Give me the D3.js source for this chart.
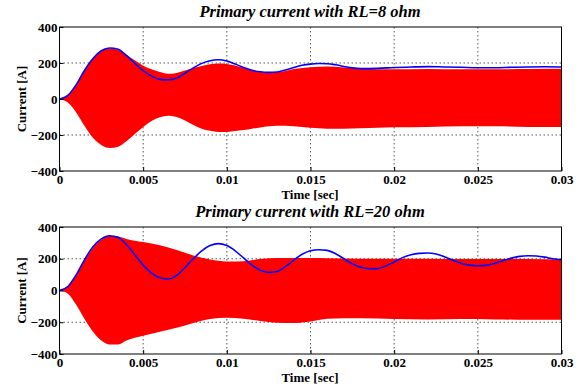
<!DOCTYPE html>
<html>
<head>
<meta charset="utf-8">
<script src="https://cdn.jsdelivr.net/npm/d3@7"></script>
<style>
  body { margin: 0; background: #fff; }
  svg { display: block; font-family: 'Liberation Serif', 'Times New Roman', serif; }
</style>
</head>
<body>
<div id="chart"></div>
<script>
// ticks
const xTicks = [0, 0.005, 0.01, 0.015, 0.02, 0.025, 0.03];
const xTickLabels = ['0', '0.005', '0.01', '0.015', '0.02', '0.025', '0.03'];
const yTicks = [-400, -200, 0, 200, 400];

// RL = 8 ohm : blue envelope
const tBlue8 = [0, 0.0005, 0.001, 0.0015, 0.002, 0.0025, 0.003, 0.0035, 0.004, 0.0045, 0.005, 0.0055, 0.006, 0.0065, 0.007, 0.0075, 0.008, 0.0085, 0.009, 0.0095, 0.01, 0.0105, 0.011, 0.0115, 0.012, 0.0125, 0.013, 0.0135, 0.014, 0.0145, 0.015, 0.0155, 0.016, 0.0165, 0.017, 0.0175, 0.018, 0.019, 0.02, 0.021, 0.022, 0.023, 0.024, 0.025, 0.026, 0.027, 0.028, 0.029, 0.03];
const blue8 = [0, 20, 80, 160, 225, 268, 283, 276, 242, 198, 158, 127, 109, 106, 117, 143, 173, 198, 213, 218, 211, 194, 175, 160, 151, 148, 150, 161, 175, 187, 194, 197, 196, 190, 181, 173, 169, 170, 175, 178, 180, 178, 176, 174, 174, 176, 178, 179, 178];

// RL = 8 ohm : red band (upper / lower bounds of the fast signal)
const tRed8 = [0, 0.0005, 0.001, 0.0015, 0.002, 0.0025, 0.003, 0.0035, 0.004, 0.0045, 0.005, 0.0055, 0.006, 0.0065, 0.007, 0.0075, 0.008, 0.0085, 0.009, 0.0095, 0.01, 0.0105, 0.011, 0.0115, 0.012, 0.0125, 0.013, 0.0135, 0.014, 0.015, 0.016, 0.017, 0.018, 0.02, 0.022, 0.024, 0.026, 0.028, 0.03];
const redHi8 = [0, 20, 80, 158, 222, 265, 280, 272, 245, 215, 185, 165, 150, 140, 145, 158, 172, 184, 193, 197, 195, 186, 172, 160, 152, 149, 150, 156, 166, 176, 180, 175, 168, 165, 167, 165, 165, 167, 168];
const redLo8 = [0, -20, -75, -150, -215, -255, -272, -265, -235, -195, -155, -122, -102, -93, -100, -120, -145, -165, -177, -183, -183, -178, -172, -165, -158, -152, -148, -148, -152, -160, -165, -165, -162, -157, -155, -152, -152, -155, -155];

// RL = 20 ohm : blue envelope
const tBlue20 = [0, 0.0005, 0.001, 0.0015, 0.002, 0.0025, 0.003, 0.0035, 0.004, 0.0045, 0.005, 0.0055, 0.006, 0.0065, 0.007, 0.0075, 0.008, 0.0085, 0.009, 0.0095, 0.01, 0.0105, 0.011, 0.0115, 0.012, 0.0125, 0.013, 0.0135, 0.014, 0.0145, 0.015, 0.0155, 0.016, 0.0165, 0.017, 0.0175, 0.018, 0.0185, 0.019, 0.0195, 0.02, 0.0205, 0.021, 0.0215, 0.022, 0.0225, 0.023, 0.0235, 0.024, 0.0245, 0.025, 0.0255, 0.026, 0.0265, 0.027, 0.0275, 0.028, 0.0285, 0.029, 0.0295, 0.03];
const blue20 = [0, 25, 100, 195, 275, 325, 345, 335, 290, 225, 160, 110, 80, 72, 95, 145, 200, 250, 283, 295, 283, 250, 205, 160, 127, 114, 120, 150, 192, 228, 250, 257, 253, 232, 200, 168, 146, 137, 138, 155, 180, 207, 225, 234, 236, 230, 213, 190, 172, 160, 156, 158, 170, 188, 204, 215, 219, 217, 210, 200, 194];

// RL = 20 ohm : red band
const tRed20 = [0, 0.0005, 0.001, 0.0015, 0.002, 0.0025, 0.003, 0.0035, 0.004, 0.005, 0.006, 0.007, 0.008, 0.009, 0.01, 0.011, 0.012, 0.013, 0.014, 0.015, 0.016, 0.018, 0.02, 0.022, 0.024, 0.026, 0.028, 0.03];
const redHi20 = [0, 25, 98, 190, 270, 320, 343, 340, 325, 305, 285, 255, 220, 195, 183, 185, 198, 205, 205, 204, 203, 200, 200, 200, 198, 198, 198, 195];
const redLo20 = [0, -20, -90, -180, -260, -315, -340, -340, -315, -285, -260, -235, -205, -180, -172, -178, -192, -203, -205, -195, -178, -175, -180, -182, -180, -182, -185, -185];

const panels = [
  { title: 'Primary current with RL=8 ohm', top: 27, tBlue: tBlue8, blue: blue8, tRed: tRed8, hi: redHi8, lo: redLo8 },
  { title: 'Primary current with RL=20 ohm', top: 227, tBlue: tBlue20, blue: blue20, tRed: tRed20, hi: redHi20, lo: redLo20 }
];

const W = 587, H = 387;
const left = 59.5, right = 561.5;
const plotH = [144, 127];

const svg = d3.select('#chart').append('svg')
  .attr('width', W)
  .attr('height', H);

panels.forEach((p, i) => {
  const top = p.top;
  const h = plotH[i];
  const x = d3.scaleLinear().domain([0, 0.03]).range([left, right]);
  const y = d3.scaleLinear().domain([-400, 400]).range([top + h, top]);

  const g = svg.append('g');

  // grid
  g.selectAll('.gx').data(xTicks.slice(1, -1)).enter().append('line')
    .attr('x1', d => x(d)).attr('x2', d => x(d))
    .attr('y1', top).attr('y2', top + h)
    .attr('stroke', '#555').attr('stroke-width', 1)
    .attr('stroke-dasharray', '1.5,2.5');
  g.selectAll('.gy').data(yTicks.slice(1, -1)).enter().append('line')
    .attr('x1', left).attr('x2', right)
    .attr('y1', d => y(d)).attr('y2', d => y(d))
    .attr('stroke', '#555').attr('stroke-width', 1)
    .attr('stroke-dasharray', '1.5,2.5');

  // red band
  const band = p.tRed.map((t, k) => ({ t, hi: p.hi[k], lo: p.lo[k] }));
  const area = d3.area()
    .x(d => x(d.t))
    .y0(d => y(d.lo))
    .y1(d => y(d.hi))
    .curve(d3.curveMonotoneX);
  g.append('path')
    .datum(band)
    .attr('fill', '#ff0000')
    .attr('d', area);

  // blue envelope
  const env = p.tBlue.map((t, k) => ({ t, v: p.blue[k] }));
  const line = d3.line()
    .x(d => x(d.t))
    .y(d => y(d.v))
    .curve(d3.curveMonotoneX);
  g.append('path')
    .datum(env)
    .attr('fill', 'none')
    .attr('stroke', '#0000ff')
    .attr('stroke-width', 1.6)
    .attr('d', line);

  // box
  g.append('rect')
    .attr('x', left).attr('y', top)
    .attr('width', right - left).attr('height', h)
    .attr('fill', 'none').attr('stroke', '#000').attr('stroke-width', 1);

  // axes
  const xAxis = g.append('g')
    .attr('transform', `translate(0,${top + h})`)
    .call(d3.axisBottom(x).tickValues(xTicks).tickFormat((d, k) => xTickLabels[k]).tickSize(-4).tickPadding(4));
  const yAxis = g.append('g')
    .attr('transform', `translate(${left},0)`)
    .call(d3.axisLeft(y).tickValues(yTicks).tickSize(-4).tickPadding(2));
  [xAxis, yAxis].forEach(a => {
    a.select('.domain').remove();
    a.selectAll('line').attr('stroke', '#000');
    a.selectAll('text')
      .attr('font-family', "'Liberation Serif', serif")
      .attr('font-weight', 'bold')
      .attr('font-size', 13)
      .attr('fill', '#000');
  });

  // title
  g.append('text')
    .attr('x', 310).attr('y', top - 10)
    .attr('text-anchor', 'middle')
    .attr('font-size', 16.5)
    .attr('font-weight', 'bold')
    .attr('font-style', 'italic')
    .text(p.title);

  // x label
  g.append('text')
    .attr('x', 310).attr('y', top + h + 28)
    .attr('text-anchor', 'middle')
    .attr('font-size', 13)
    .attr('font-weight', 'bold')
    .text('Time [sec]');

  // y label
  g.append('text')
    .attr('transform', `translate(26,${top + h / 2}) rotate(-90)`)
    .attr('text-anchor', 'middle')
    .attr('font-size', 13)
    .attr('font-weight', 'bold')
    .text('Current [A]');
});
</script>
</body>
</html>
